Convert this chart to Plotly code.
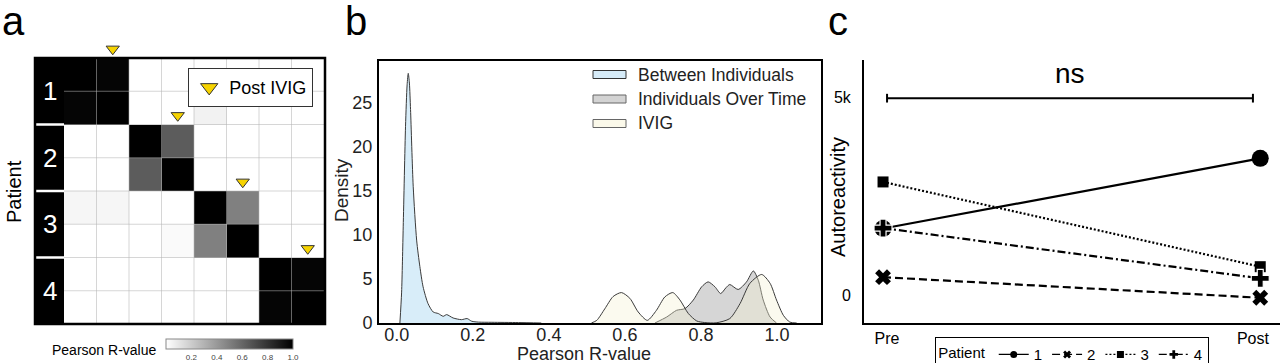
import plotly.graph_objects as go

W, H = 1280, 363


def px(x):
    return x / W


def py(y):
    return 1 - y / H


# ---------------- Panel a data ----------------
sample_labels = ["P1 pre", "P1 post", "P2 pre", "P2 post",
                 "P3 pre", "P3 post", "P4 pre", "P4 post"]
corr_matrix = [
    [1.00, 0.98, 0.00, 0.00, 0.00, 0.00, 0.00, 0.00],
    [0.98, 1.00, 0.00, 0.00, 0.05, 0.00, 0.00, 0.00],
    [0.00, 0.00, 1.00, 0.64, 0.00, 0.00, 0.00, 0.00],
    [0.00, 0.00, 0.64, 1.00, 0.00, 0.00, 0.00, 0.00],
    [0.035, 0.035, 0.00, 0.00, 1.00, 0.50, 0.00, 0.00],
    [0.00, 0.00, 0.00, 0.02, 0.50, 1.00, 0.00, 0.00],
    [0.00, 0.00, 0.00, 0.00, 0.00, 0.00, 1.00, 0.98],
    [0.00, 0.00, 0.00, 0.00, 0.00, 0.00, 0.98, 1.00],
]
patient_labels = ["1", "2", "3", "4"]
post_ivig_index = [1, 3, 5, 7]
colorbar_ticks = [0.2, 0.4, 0.6, 0.8, 1.0]

# ---------------- Panel b data (density curves) ----------------
between_x = [0.008, 0.0125, 0.0167, 0.0228, 0.027, 0.030, 0.033, 0.036, 0.043,
             0.052, 0.0605, 0.069, 0.082, 0.0955, 0.109, 0.122, 0.131, 0.148,
             0.170, 0.185, 0.197, 0.215, 0.25, 0.32, 0.38]
between_y = [0.0, 3.5, 10.9, 22.3, 27.0, 28.3, 27.2, 24.2, 15.5,
             9.4, 6.4, 4.1, 2.2, 1.25, 1.07, 0.76, 0.95, 0.57,
             0.38, 0.5, 0.2, 0.1, 0.08, 0.05, 0.0]

overtime_x = [0.679, 0.710, 0.736, 0.758, 0.780, 0.802, 0.819, 0.837, 0.852,
              0.866, 0.876, 0.898, 0.920, 0.938, 0.951, 0.964, 0.982, 0.999]
overtime_y = [0.0, 0.68, 1.44, 1.63, 2.6, 4.1, 4.66, 4.1, 3.34,
              4.0, 4.36, 3.8, 4.66, 5.9, 4.85, 2.6, 0.68, 0.0]

ivig_x = [0.512, 0.526, 0.547, 0.569, 0.591, 0.613, 0.635, 0.659, 0.683,
          0.705, 0.726, 0.745, 0.767, 0.789, 0.810, 0.840, 0.876, 0.903,
          0.929, 0.960, 0.982, 0.999, 1.017, 1.034, 1.052]
ivig_y = [0.0, 0.3, 1.6, 3.0, 3.45, 2.8, 1.25, 0.3, 1.44,
          2.95, 3.45, 2.6, 1.07, 0.23, 0.05, 0.02, 0.5, 2.2,
          4.5, 5.5, 4.5, 2.6, 0.87, 0.1, 0.0]

density_series = ["Between Individuals", "Individuals Over Time", "IVIG"]
b_xticks = [0.0, 0.2, 0.4, 0.6, 0.8, 1.0]
b_yticks = [0, 5, 10, 15, 20, 25]

# ---------------- Panel c data ----------------
timepoints = ["Pre", "Post"]
patients_c = ["1", "2", "3", "4"]
autoreact_pre = [1680, 450, 2855, 1690]
autoreact_post = [3450, -70, 715, 420]
c_yticks = [0, 5000]
c_yticklabels = ["0", "5k"]

FONT = "Liberation Sans, Arial, Helvetica, sans-serif"

fig = go.Figure()

# ---------------- Panel a ----------------
n = len(sample_labels)
cell_h = (324 - 58) / n          # pixels per heatmap row
top_extra = 20 / cell_h          # room above the matrix for the first marker
colorscale = [[0, "rgb(255,255,255)"], [1, "rgb(0,0,0)"]]
fig.add_trace(go.Heatmap(
    z=corr_matrix, x=list(range(n)), y=list(range(n)),
    zmin=0, zmax=1, colorscale=colorscale, showscale=True,
    xaxis="x", yaxis="y", hoverinfo="skip",
    colorbar=dict(
        orientation="h", x=px(229.5), xanchor="center",
        y=py(359), yanchor="bottom", len=127, lenmode="pixels",
        thickness=10, tickvals=colorbar_ticks,
        ticktext=[f"{t:.1f}" for t in colorbar_ticks],
        tickfont=dict(size=8, color="#444", family="Liberation Sans, Arial"),
        ticks="", ticklen=0,
        outlinewidth=1, outlinecolor="#888", xpad=0, ypad=0,
    ),
))

tri_y = [i - 1 - 0.5 - 0.27 for i in post_ivig_index]
fig.add_trace(go.Scatter(
    x=post_ivig_index, y=tri_y, mode="markers", xaxis="x", yaxis="y",
    marker=dict(symbol="triangle-down", size=11.5, color="#f6d300",
                line=dict(color="#333", width=1)),
    cliponaxis=False, showlegend=False, hoverinfo="skip",
))
fig.add_trace(go.Scatter(
    x=[None], y=[None], mode="markers", xaxis="x", yaxis="y",
    name="Post IVIG", legend="legend2",
    marker=dict(symbol="triangle-down", size=15, color="#f6d300",
                line=dict(color="#333", width=1)),
))

# ---------------- Panel b ----------------
b_fill = ["rgba(190,225,245,0.6)", "rgba(200,200,200,0.75)", "rgba(244,240,212,0.36)"]
for xs, ys, fc in [(between_x, between_y, b_fill[0]),
                   (overtime_x, overtime_y, b_fill[1]),
                   (ivig_x, ivig_y, b_fill[2])]:
    fig.add_trace(go.Scatter(
        x=xs, y=ys, mode="lines", fill="tozeroy", fillcolor=fc,
        line=dict(color="#3a3a3a", width=1, shape="spline", smoothing=0.7),
        xaxis="x2", yaxis="y2", showlegend=False, hoverinfo="skip",
    ))

# ---------------- Panel c ----------------
dashes = ["solid", "8px,4px", "2px,2px", "8px,3px,2px,3px"]
symbols = ["circle", "x", "square", "cross"]
sizes = [17, 14, 11, 15]
edge_col = ["black", "black", "black", "white"]
x_pos = [0 - 0.011, 1 + 0.02]
for i, p in enumerate(patients_c):
    fig.add_trace(go.Scatter(
        x=x_pos, y=[autoreact_pre[i], autoreact_post[i]],
        mode="lines+markers", xaxis="x3", yaxis="y3",
        line=dict(color="black", width=2.2, dash=dashes[i]),
        marker=dict(symbol=symbols[i], size=sizes[i], color="black",
                    line=dict(width=1.2 if i == 3 else 0, color=edge_col[i])),
        showlegend=False, cliponaxis=False, hoverinfo="skip",
    ))
for i, p in enumerate(patients_c):
    fig.add_trace(go.Scatter(
        x=[None], y=[None], mode="lines+markers", xaxis="x3", yaxis="y3",
        name=p, legend="legend",
        line=dict(color="black", width=1.3, dash=dashes[i]),
        marker=dict(symbol=symbols[i], size=7, color="black", line=dict(width=0)),
    ))

# ---------------- Shapes ----------------
shapes = []
label_x0 = -0.5 - 29 / 32.5
grid_col = "rgba(180,180,180,0.55)"
for k in range(1, n):
    shapes.append(dict(type="line", xref="x", yref="y", x0=k - 0.5, x1=k - 0.5,
                       y0=-0.5, y1=n - 0.5, line=dict(color=grid_col, width=1), layer="above"))
    shapes.append(dict(type="line", xref="x", yref="y", x0=-0.5, x1=n - 0.5,
                       y0=k - 0.5, y1=k - 0.5, line=dict(color=grid_col, width=1), layer="above"))
for i in range(len(patient_labels)):
    shapes.append(dict(type="rect", xref="x", yref="y", x0=label_x0, x1=-0.5,
                       y0=2 * i - 0.5, y1=2 * i + 1.5, fillcolor="black",
                       line=dict(width=0), layer="above"))
for i in range(1, len(patient_labels)):
    shapes.append(dict(type="line", xref="x", yref="y", x0=label_x0, x1=-0.5,
                       y0=2 * i - 0.5, y1=2 * i - 0.5,
                       line=dict(color="white", width=2.5), layer="above"))
shapes.append(dict(type="rect", xref="paper", yref="paper", x0=px(35), x1=px(325),
                   y0=py(324), y1=py(58), line=dict(color="black", width=2.5),
                   fillcolor="rgba(0,0,0,0)", layer="above"))

# panel b legend patches
patch_y = [(70.5, 78.5), (95, 103), (119.5, 127.5)]
patch_fill = ["#d6ebf8", "#d3d3d3", "#fbf9ea"]
patch_line = ["#333", "#666", "#666"]
for (y0, y1), fc, lc in zip(patch_y, patch_fill, patch_line):
    shapes.append(dict(type="rect", xref="paper", yref="paper", x0=px(593), x1=px(626),
                       y0=py(y1), y1=py(y0), fillcolor=fc, line=dict(color=lc, width=1)))

# significance bar panel c
bar_y = 4970
cap = 110
shapes.append(dict(type="line", xref="x3", yref="y3", x0=0, x1=1, y0=bar_y, y1=bar_y,
                   line=dict(color="black", width=2)))
for xx in [0, 1]:
    shapes.append(dict(type="line", xref="x3", yref="y3", x0=xx, x1=xx,
                       y0=bar_y - cap, y1=bar_y + cap, line=dict(color="black", width=2)))

# ---------------- Annotations ----------------
ann = []
for lab, xx in [("a", 0), ("b", 343), ("c", 826)]:
    ann.append(dict(text=lab, xref="paper", yref="paper", x=px(xx), y=py(21),
                    xanchor="left", yanchor="middle", showarrow=False,
                    font=dict(size=40, color="black", family=FONT)))
for i, lab in enumerate(patient_labels):
    ann.append(dict(text=lab, xref="x", yref="y", x=(label_x0 - 0.5) / 2, y=2 * i + 0.5,
                    showarrow=False, font=dict(size=26, color="white", family=FONT)))
ann.append(dict(text="Patient", xref="paper", yref="paper", x=px(14), y=py(192),
                xanchor="center", yanchor="middle", textangle=-90, showarrow=False,
                font=dict(size=20, color="black", family=FONT)))
ann.append(dict(text="Pearson R-value", xref="paper", yref="paper", x=px(158), y=py(350),
                xanchor="right", yanchor="middle", showarrow=False,
                font=dict(size=14, color="black", family=FONT)))
for (y0, y1), lab in zip(patch_y, density_series):
    ann.append(dict(text=lab, xref="paper", yref="paper", x=px(636), y=py((y0 + y1) / 2),
                    xanchor="left", yanchor="middle", showarrow=False,
                    font=dict(size=17.5, color="#222", family=FONT)))
ann.append(dict(text="Pearson R-value", xref="paper", yref="paper", x=px(584), y=py(354),
                xanchor="center", yanchor="middle", showarrow=False,
                font=dict(size=18, color="#222", family=FONT)))
ann.append(dict(text="Density", xref="paper", yref="paper", x=px(342), y=py(190),
                xanchor="center", yanchor="middle", textangle=-90, showarrow=False,
                font=dict(size=19, color="#222", family=FONT)))
ann.append(dict(text="Autoreactivity", xref="paper", yref="paper", x=px(838), y=py(197),
                xanchor="center", yanchor="middle", textangle=-90, showarrow=False,
                font=dict(size=20, color="black", family=FONT)))
ann.append(dict(text="ns", xref="x3", yref="y3", x=0.5, y=bar_y + 180,
                xanchor="center", yanchor="bottom", showarrow=False,
                font=dict(size=28, color="black", family=FONT)))

hidden = dict(showgrid=False, zeroline=False, showticklabels=False, ticks="",
              showline=False)

fig.update_layout(
    width=W, height=H, margin=dict(l=0, r=0, t=0, b=0, autoexpand=False),
    paper_bgcolor="white", plot_bgcolor="white",
    font=dict(family=FONT, color="black"),
    showlegend=True,
    xaxis=dict(domain=[px(35), px(324)], range=[label_x0, n - 0.5], anchor="y", **hidden),
    yaxis=dict(domain=[py(324), py(58 - 20)], range=[n - 0.5, -0.5 - top_extra],
               anchor="x", **hidden),
    xaxis2=dict(domain=[px(379), px(821)], range=[-0.047, 1.116], anchor="y2",
                showline=True, mirror=True, linecolor="black", linewidth=2,
                showgrid=False, zeroline=False, ticks="", ticklen=0, tickvals=b_xticks,
                ticktext=[f"{t:.1f}" for t in b_xticks], ticklabelstandoff=-6,
                tickfont=dict(size=18, color="#222")),
    yaxis2=dict(domain=[py(323), py(61)], range=[0, 29.7], anchor="x2",
                showline=True, mirror=True, linecolor="black", linewidth=2,
                showgrid=False, zeroline=False, ticks="", ticklen=0, tickvals=b_yticks,
                ticklabelstandoff=1, tickfont=dict(size=18, color="#222")),
    xaxis3=dict(domain=[px(864), 1.0], range=[-0.063, 1.074], anchor="y3",
                showline=True, linecolor="black", linewidth=2, showgrid=False,
                zeroline=False, ticks="", ticklen=0, tickvals=[0, 1], ticktext=timepoints,
                tickfont=dict(size=16, color="black"), ticklabelstandoff=0),
    yaxis3=dict(domain=[py(323), py(60)], range=[-707, 5934], anchor="x3",
                showline=True, linecolor="black", linewidth=2, showgrid=False,
                zeroline=False, ticks="", ticklen=0, tickvals=c_yticks,
                ticktext=c_yticklabels, ticklabelstandoff=8,
                tickfont=dict(size=16, color="black")),
    legend=dict(orientation="h", x=px(935), y=py(337), xanchor="left", yanchor="top",
                title=dict(text="Patient", side="left", font=dict(size=15)),
                font=dict(size=15, color="black"), bordercolor="black", borderwidth=1.2,
                bgcolor="white", itemwidth=30, tracegroupgap=0),
    legend2=dict(x=px(188), y=py(68), xanchor="left", yanchor="top",
                 font=dict(size=18, color="black"), bordercolor="#333", borderwidth=1.2,
                 bgcolor="white"),
    shapes=shapes, annotations=ann,
)

fig.write_html(
    "out.html",
    config={"displayModeBar": False},
    post_script="document.body.style.margin='0';document.body.style.overflow='hidden';",
)
